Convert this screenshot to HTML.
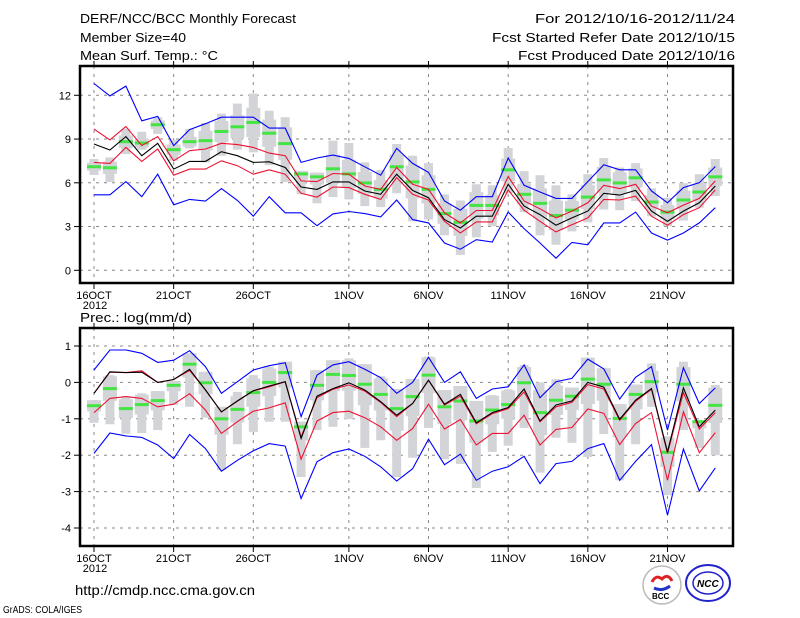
<!DOCTYPE html>
<html><head><meta charset="utf-8"><style>
html,body{margin:0;padding:0;background:#fff;}
svg{display:block;}
text{font-family:"Liberation Sans",sans-serif;fill:#000;}
</style></head><body>
<svg id="chart" width="800" height="618" viewBox="0 0 800 618" xmlns="http://www.w3.org/2000/svg">
<rect x="0" y="0" width="800" height="618" fill="#fff"/>
<g font-size="13">
<text x="80" y="23" textLength="216" lengthAdjust="spacingAndGlyphs">DERF/NCC/BCC Monthly Forecast</text>
<text x="80" y="42" textLength="106" lengthAdjust="spacingAndGlyphs">Member Size=40</text>
<text x="80" y="60" textLength="138" lengthAdjust="spacingAndGlyphs">Mean Surf. Temp.: °C</text>
<text x="535" y="23" textLength="200" lengthAdjust="spacingAndGlyphs">For 2012/10/16-2012/11/24</text>
<text x="492" y="42" textLength="243" lengthAdjust="spacingAndGlyphs">Fcst Started Refer Date 2012/10/15</text>
<text x="518" y="60" textLength="217" lengthAdjust="spacingAndGlyphs">Fcst Produced Date 2012/10/16</text>
<text x="80" y="322" textLength="112" lengthAdjust="spacingAndGlyphs">Prec.: log(mm/d)</text>
<text x="75" y="595" font-size="14" textLength="180" lengthAdjust="spacingAndGlyphs">http://cmdp.ncc.cma.gov.cn</text>
<text x="3" y="613" font-size="10" textLength="79" lengthAdjust="spacingAndGlyphs">GrADS: COLA/IGES</text>
</g>
<g>
<circle cx="662" cy="585" r="19" fill="#fff" stroke="#bbb" stroke-width="1.5"/>
<path d="M652 582 q4 -8 10 -3 q6 -6 10 2" fill="none" stroke="#d22" stroke-width="3"/>
<path d="M654 588 q8 4 16 -2" fill="none" stroke="#23c" stroke-width="3"/>
<text x="652" y="599" font-size="8" font-weight="bold" fill="#123">BCC</text>
<ellipse cx="708" cy="583" rx="22" ry="18" fill="#fff" stroke="#22c" stroke-width="2"/>
<ellipse cx="708" cy="583" rx="15" ry="11" fill="none" stroke="#22c" stroke-width="1.5"/>
<text x="697" y="587" font-size="10" font-weight="bold" font-style="italic" fill="#22c">NCC</text>
</g>
<g id="plots"></g>
</svg>
<script>
const days = ["16OCT","17","18","19","20","21OCT","22","23","24","25","26OCT","27","28","29","30","31","1NOV","2","3","4","5","6NOV","7","8","9","10","11NOV","12","13","14","15","16NOV","17","18","19","20","21NOV","22","23","24"];
const xTickLabels = ["16OCT","21OCT","26OCT","1NOV","6NOV","11NOV","16NOV","21NOV"];
const xTickIndex = [0,5,10,16,21,26,31,36];
const tempTicks = [0,3,6,9,12];
const precTicks = [1,0,-1,-2,-3,-4];

const tMean = [8.66,8.25,9.17,7.86,8.71,6.94,7.47,7.47,8.13,7.86,7.4,7.44,7.05,5.71,5.55,6.06,6.06,5.44,5.21,6.59,5.48,4.98,3.48,2.9,3.71,3.71,5.9,4.4,3.82,3.09,3.59,4.06,5.28,5.16,5.48,4.06,3.36,4.06,4.63,5.78];
const tRedHi = [9.68,8.94,9.86,8.55,9.17,7.51,8.2,8.32,8.71,8.62,8.43,8.04,7.86,6.13,6.08,6.64,6.59,5.78,5.55,7.05,5.9,5.55,3.94,3.25,4.1,4.1,6.43,4.75,4.22,3.59,4.06,4.63,5.83,5.6,5.9,4.4,3.94,4.47,4.93,6.13];
const tRedLo = [7.4,7.33,8.43,7.47,8.32,6.52,6.94,6.94,7.51,7.17,6.59,6.89,6.59,5.28,5.02,5.71,5.67,5.21,4.86,6.36,5.21,4.82,3.36,2.56,3.32,3.32,5.51,4.12,3.36,2.63,3.13,3.59,4.86,4.82,5.09,3.71,3.09,3.82,4.29,5.51];
const tBlueHi = [12.81,11.96,12.63,10.25,10.55,8.55,9.65,10.05,10.5,10.5,10.5,9.75,9.75,7.4,7.7,7.9,7.67,7.1,6.52,8.36,7.33,6.71,4.75,4.12,5.05,5.05,7.7,5.83,5.37,4.93,4.93,6.08,7.24,6.89,6.89,5.44,4.63,5.67,6.01,7.12];
const tBlueLo = [5.18,5.18,6.08,5.05,6.59,4.49,4.86,4.75,5.6,4.79,3.71,5.05,3.94,3.94,3.06,3.87,4.03,3.89,3.66,4.82,3.48,3.25,1.87,1.45,2.1,1.94,3.99,2.86,1.87,0.83,1.91,1.75,3.25,3.25,3.99,2.56,2.07,2.56,3.25,4.29];
const tGreen = [7.1,7.03,8.82,8.73,9.98,8.27,8.82,8.89,9.52,9.84,10.14,9.4,8.69,6.61,6.41,6.96,6.61,5.99,5.55,7.1,6.06,5.55,3.89,3.29,4.45,4.45,6.89,5.21,4.59,3.76,4.12,5.02,6.2,5.99,6.34,4.68,3.99,4.82,5.37,6.41];
const tBarHi = [7.63,7.74,9.7,9.5,10.5,8.94,9.7,10.1,10.74,11.43,12.12,10.94,10.5,6.82,6.7,8.89,8.73,7.4,6.87,8.66,7.86,7.35,5.21,4.79,5.9,5.83,8.39,6.8,6.52,5.83,5.21,6.59,7.7,7.05,7.35,5.62,4.98,5.97,6.59,7.63];
const tBarLo = [6.54,6.06,7.97,8.27,9.35,7.51,8.36,7.4,7.86,8.27,8.09,7.21,6.06,5.21,4.59,5.02,4.86,4.4,4.33,5.28,3.36,3.48,2.4,1.06,2.26,3.02,5.28,3.99,2.4,1.75,2.67,3.29,4.17,4.12,4.75,3.71,3.02,3.41,4.29,5.09];

const pMean = [-0.3,0.29,0.27,0.28,0,0.08,0.36,-0.21,-0.81,-0.51,-0.23,-0.1,0.02,-1.54,-0.38,-0.17,-0.01,-0.21,-0.53,-0.9,-0.58,0.06,-0.6,-0.33,-1.11,-0.83,-0.69,-0.18,-1.06,-0.62,-0.51,0,-0.13,-1.01,-0.49,-0.17,-1.91,-0.15,-1.22,-0.76];
const pRedHi = [-0.3,0.28,0.27,0.32,0,0.08,0.33,-0.21,-0.81,-0.51,-0.23,-0.12,0.02,-1.5,-0.42,-0.19,-0.07,-0.24,-0.55,-0.94,-0.58,0.06,-0.62,-0.38,-1.14,-0.86,-0.72,-0.26,-1.08,-0.67,-0.55,-0.06,-0.18,-1.04,-0.52,-0.19,-1.95,-0.28,-1.28,-0.83];
const pRedLo = [-0.83,-0.44,-0.39,-0.44,-0.67,-0.6,-0.31,-0.76,-1.4,-1.08,-0.79,-0.7,-0.56,-2.11,-1.06,-0.83,-0.79,-0.97,-1.22,-1.59,-1.27,-0.6,-1.28,-1.02,-1.72,-1.4,-1.4,-0.9,-1.72,-1.29,-1.24,-0.73,-0.85,-1.71,-1.13,-0.83,-2.69,-0.81,-1.93,-1.38];
const pBlueHi = [0.34,0.89,0.89,0.8,0.55,0.61,0.87,0.43,-0.3,0.02,0.34,0.46,0.54,-0.94,0.2,0.48,0.57,0.36,0.13,-0.3,0,0.69,0,0.29,-0.44,-0.18,-0.12,0.48,-0.42,0.02,0.11,0.64,0.37,-0.46,0.14,0.43,-1.31,0.4,-0.58,-0.15];
const pBlueLo = [-1.95,-1.39,-1.47,-1.51,-1.72,-2.09,-1.43,-1.82,-2.44,-2.14,-1.88,-1.68,-1.75,-3.19,-2.18,-1.93,-1.83,-2.03,-2.32,-2.71,-2.37,-1.56,-2.26,-1.97,-2.69,-2.44,-2.32,-2.03,-2.78,-2.23,-2.17,-1.82,-1.68,-2.69,-2.17,-1.71,-3.65,-1.83,-2.98,-2.35];
const pGreen = [-0.64,-0.17,-0.72,-0.61,-0.5,-0.08,0.5,-0.01,-1.0,-0.74,-0.28,0,0.27,-1.22,-0.08,0.22,0.19,-0.05,-0.33,-0.72,-0.39,0.2,-0.67,-0.51,-1.06,-0.76,-0.61,-0.01,-0.83,-0.49,-0.38,0.09,-0.05,-0.99,-0.33,0.02,-1.92,-0.05,-1.08,-0.63];
const pBarHi = [-0.49,0.2,-0.38,-0.3,-0.24,0.04,0.8,0.29,-0.67,-0.26,0.2,0.43,0.57,-1.08,0.34,0.61,0.66,0.5,0.17,-0.18,0.09,0.71,-0.21,-0.1,-0.51,-0.35,-0.19,0.48,0,0.09,-0.14,0.68,0.39,-0.6,-0.06,0.52,-1.48,0.57,-1.08,-0.07];
const pBarLo = [-1.11,-1.15,-1.41,-1.39,-1.31,-0.62,-0.67,-0.97,-2.41,-1.7,-1.36,-1.08,-1.08,-2.6,-1.31,-1.22,-1.01,-1.8,-1.59,-2.6,-2.07,-1.25,-2.11,-2.24,-2.9,-1.91,-1.74,-1.25,-2.48,-1.52,-1.66,-2.05,-1.42,-2.69,-1.7,-0.67,-3.1,-1.31,-1.8,-2.0];

const NS = "http://www.w3.org/2000/svg";
const root = document.getElementById('plots');
function mk(tag, attrs, parent){
  const e = document.createElementNS(NS, tag);
  for (const k in attrs) e.setAttribute(k, attrs[k]);
  (parent||root).appendChild(e);
  return e;
}
const X0 = 80, X1 = 733;
function xScale(i){ return 94 + i * 15.93; }

function panel(name, top, bottom, vmin, vmax, yTop, yBot, ticks, d){
  const yScale = v => yBot + (v - vmin) * (yTop - yBot) / (vmax - vmin);
  const g = mk('g', {});
  
  
  // grid
  ticks.forEach(t => {
    const y = yScale(t);
    const gl = mk('line', {x1:X0, x2:X1, y1:y, y2:y, stroke:'#888', 'stroke-width':1, 'stroke-dasharray':'3,5'}, g);
    
    
    const tk = mk('line', {x1:X0-6, x2:X0, y1:y, y2:y, stroke:'#000', 'stroke-width':1}, g);
    
    
    const tl = mk('text', {x:X0-9, y:y+4, 'font-size':11, 'text-anchor':'end'}, g);
    tl.textContent = String(t);
    
    
  });
  xTickIndex.forEach((di, k) => {
    const x = xScale(di);
    const gl = mk('line', {x1:x, x2:x, y1:top, y2:bottom, stroke:'#888', 'stroke-width':1, 'stroke-dasharray':'3,5'}, g);
    
    
    const tk = mk('line', {x1:x, x2:x, y1:bottom, y2:bottom+6, stroke:'#000', 'stroke-width':1}, g);
    
    
    const tk2 = mk('line', {x1:x, x2:x, y1:top-5, y2:top, stroke:'#000', 'stroke-width':1}, g);
    
    
    const tl = mk('text', {x:x, y:bottom+16, 'font-size':11, 'text-anchor':'middle'}, g);
    tl.textContent = xTickLabels[k];
    
    
  });
  const yr = mk('text', {x:xScale(0)+1, y:bottom+26, 'font-size':11, 'text-anchor':'middle'}, g);
  yr.textContent = '2012';
  
  
  // bars
  days.forEach((dd, i) => {
    const x = xScale(i);
    const hi = d.barHi[i], lo = d.barLo[i];
    const w = mk('rect', {x:x-4.5, y:yScale(hi), width:9, height:Math.max(1, yScale(lo)-yScale(hi)), fill:'#d3d4d8'}, g);
    
    
    const gv = d.green[i];
    const bh = Math.min(hi, gv + (hi-lo)*0.25), bl = Math.max(lo, gv - (hi-lo)*0.25);
    const b = mk('rect', {x:x-7, y:yScale(bh), width:14, height:Math.max(1, yScale(bl)-yScale(bh)), fill:'#d3d4d8'}, g);
    
    
  });
  days.forEach((dd, i) => {
    const x = xScale(i);
    const gm = mk('rect', {x:x-7, y:yScale(d.green[i])-1.5, width:14, height:3, fill:'#44e444'}, g);
    
    
  });
  const series = [[d.blueHi,'#0000ff','blue-upper-line'],[d.blueLo,'#0000ff','blue-lower-line'],[d.redHi,'#ee1133','red-upper-line'],[d.redLo,'#ee1133','red-lower-line'],[d.mean,'#000000','mean-line']];
  series.forEach(s => {
    const pts = s[0].map((v,i) => xScale(i).toFixed(1)+','+yScale(v).toFixed(1)).join(' ');
    const pl = mk('polyline', {points:pts, fill:'none', stroke:s[1], 'stroke-width':1.1}, g);
    
    
  });
  const fr = mk('rect', {x:X0, y:top, width:X1-X0, height:bottom-top, fill:'none', stroke:'#000', 'stroke-width':2.5}, g);
  
  
}
panel('temperature-panel', 66, 283, 0, 12, 95.3, 270.3, tempTicks,
  {mean:tMean, redHi:tRedHi, redLo:tRedLo, blueHi:tBlueHi, blueLo:tBlueLo, green:tGreen, barHi:tBarHi, barLo:tBarLo});
panel('precipitation-panel', 328, 546, -4, 1, 346, 528, precTicks,
  {mean:pMean, redHi:pRedHi, redLo:pRedLo, blueHi:pBlueHi, blueLo:pBlueLo, green:pGreen, barHi:pBarHi, barLo:pBarLo});
</script>
</body></html>
